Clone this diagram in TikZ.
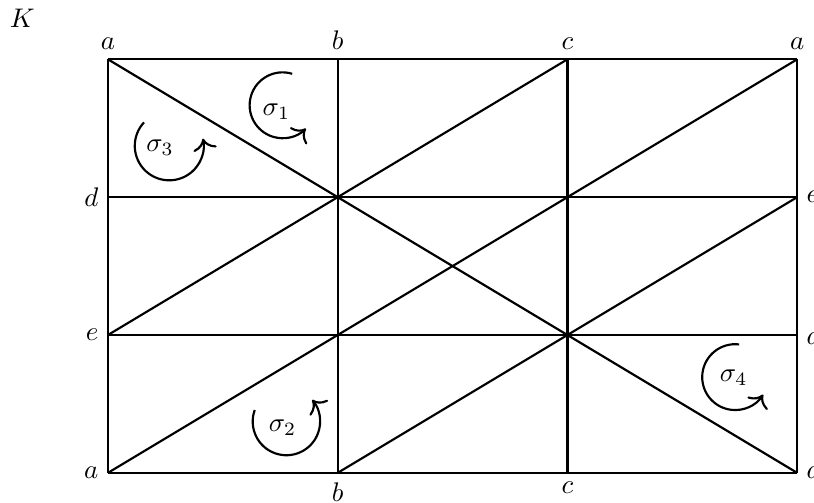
\documentclass[tikz,border=0pt]{standalone}
\usepackage{tikz}
\usetikzlibrary{arrows.meta,positioning,calc}

\begin{document}
\begin{tikzpicture}[
  edge/.style={thick},
  orient/.style={thick,-{To[scale=1.25]}},
  vlabel/.style={inner sep=3.33pt}
]
\useasboundingbox (-1.41,-0.39) rectangle (9.22,6.175);
% vertices of the square
\foreach \i in {0,...,3}{
  \foreach \j in {0,...,3}{
    \coordinate (v\i\j) at (3*\i,1.8*\j);
  }
}
% grid lines
\foreach \i in {0,...,3}{
  \draw[edge] (v\i0) -- (v\i3);
  \draw[edge] (v0\i) -- (v3\i);
}
% diagonals
\draw[edge] (v03) -- (v30);
\draw[edge] (v01) -- (v23);
\draw[edge] (v00) -- (v33);
\draw[edge] (v10) -- (v32);

% vertex labels
\node[vlabel,above] (ta) at (v03) {$a$};
\node[vlabel,above] (tb) at (v13) {$b$};
\node[vlabel,above] (tc) at (v23) {$c$};
\node[vlabel,above] (td) at (v33) {$a$};
\node[vlabel,left] (ld) at (v02) {$d$};
\node[vlabel,left] (le) at (v01) {$e$};
\node[vlabel,left] (la) at (v00) {$a$};
\node[vlabel,below] (bb) at (v10) {$b$};
\node[vlabel,below] (bc) at (v20) {$c$};
\node[vlabel,right] (re) at (v32) {$e$};
\node[vlabel,right] (rd) at (v31) {$d$};
\node[vlabel,right] (ra) at (v30) {$a$};
\node (K) at (-1.12,5.94) {$K$};

% orientations
\coordinate (o1) at (2.28,4.80);
\coordinate (o2) at (2.33,0.67);
\coordinate (o3) at (0.80,4.27);
\coordinate (o4) at (8.19,1.25);
\node (s1) at (2.20,4.71) {$\sigma_1$};
\node (s2) at (2.28,0.59) {$\sigma_2$};
\node (s3) at (0.68,4.24) {$\sigma_3$};
\node (s4) at (8.17,1.24) {$\sigma_4$};
\draw[orient] ($(o1)+(73:0.43)$) arc[start angle=73,end angle=315,radius=0.43];
\draw[orient] ($(o2)+(160:0.44)$) arc[start angle=160,end angle=400,radius=0.44];
\draw[orient] ($(o3)+(137:0.45)$) arc[start angle=137,end angle=372,radius=0.45];
\draw[orient] ($(o4)+(83:0.43)$) arc[start angle=83,end angle=328,radius=0.43];
\end{tikzpicture}
\end{document}
